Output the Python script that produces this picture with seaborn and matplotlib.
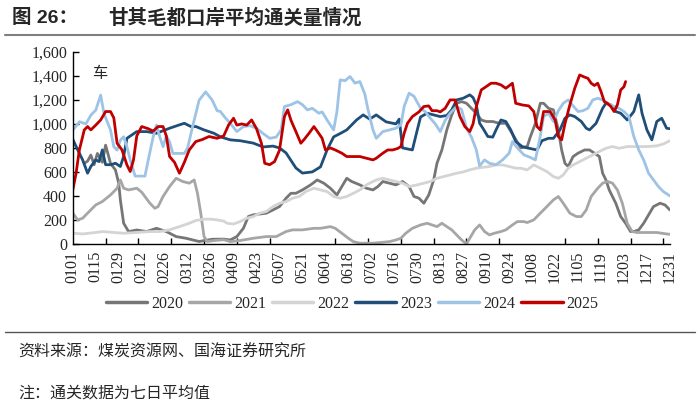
import matplotlib
matplotlib.use("Agg")
import matplotlib.pyplot as plt
from matplotlib.lines import Line2D
import pandas as pd
import seaborn as sns

# day-of-year (0 = 0101) and 7-day average clearance (trucks), traced per year
days_2020 = [7, 9, 11, 13, 15, 18, 20, 23, 26, 28, 29, 31, 34, 39, 45, 51, 57, 63, 69, 77, 85, 92, 96, 100, 104, 107, 110, 118, 122, 126, 130, 133, 136, 140, 145, 149, 153, 157, 161, 164, 167, 170, 175, 179, 183, 186, 189, 193, 197, 201, 205, 208, 211, 214, 217, 220, 222, 225, 228, 231, 234, 237, 240, 243, 246, 249, 252, 256, 260, 264, 269, 273, 277, 279, 282, 285, 287, 290, 293, 296, 298, 300, 302, 305, 308, 312, 315, 318, 321, 323, 325, 327, 331, 334, 337, 340, 342, 345, 348, 351, 354, 358, 361, 364]
vals_2020 = [671, 690, 740, 660, 754, 680, 823, 671, 616, 505, 366, 172, 103, 116, 103, 130, 103, 61, 47, 20, 39, 40, 33, 61, 130, 228, 242, 256, 283, 311, 381, 422, 422, 450, 492, 533, 506, 464, 408, 478, 547, 520, 492, 464, 450, 478, 520, 506, 492, 520, 478, 395, 381, 339, 408, 533, 672, 783, 950, 1075, 1172, 1186, 1172, 1130, 1089, 1033, 1020, 1020, 1005, 1005, 895, 800, 811, 895, 1005, 1172, 1172, 1130, 1117, 950, 783, 672, 645, 728, 756, 783, 783, 756, 728, 589, 533, 450, 339, 228, 172, 103, 103, 117, 172, 242, 311, 339, 325, 283]

days_2021 = [0, 3, 6, 10, 14, 18, 23, 27, 29, 31, 34, 39, 42, 47, 50, 52, 55, 59, 63, 67, 71, 74, 76, 78, 80, 82, 86, 92, 96, 102, 110, 118, 124, 130, 134, 140, 147, 151, 157, 160, 164, 168, 171, 175, 183, 187, 193, 197, 200, 203, 207, 212, 216, 219, 222, 225, 228, 231, 234, 237, 240, 242, 245, 248, 251, 254, 257, 261, 264, 268, 271, 275, 277, 281, 285, 289, 293, 296, 299, 303, 307, 310, 313, 316, 320, 323, 326, 329, 332, 335, 338, 341, 344, 350, 356, 362, 364]
vals_2021 = [256, 200, 214, 270, 325, 353, 408, 464, 533, 464, 450, 464, 431, 339, 297, 311, 395, 478, 547, 520, 506, 533, 422, 256, 61, 20, 28, 35, 19, 28, 47, 61, 61, 103, 117, 117, 130, 130, 144, 130, 89, 47, 19, 6, 6, 11, 19, 33, 47, 89, 130, 158, 172, 158, 144, 172, 144, 117, 75, 33, 0, 47, 117, 158, 103, 75, 89, 103, 117, 158, 186, 186, 178, 200, 256, 311, 367, 395, 339, 256, 228, 228, 283, 395, 464, 506, 520, 506, 450, 339, 172, 103, 95, 95, 95, 83, 80]

days_2022 = [0, 6, 14, 18, 25, 31, 39, 47, 53, 59, 65, 71, 75, 80, 84, 88, 92, 94, 98, 102, 106, 110, 114, 118, 122, 126, 130, 134, 138, 142, 147, 151, 155, 159, 163, 167, 171, 175, 179, 183, 185, 189, 193, 197, 201, 205, 210, 214, 218, 222, 226, 230, 234, 238, 242, 246, 250, 254, 258, 262, 266, 270, 273, 277, 281, 285, 289, 293, 296, 299, 302, 305, 309, 313, 317, 321, 325, 329, 333, 338, 342, 350, 356, 360, 364]
vals_2022 = [89, 83, 95, 103, 95, 89, 95, 103, 103, 117, 144, 172, 195, 206, 206, 200, 190, 172, 166, 186, 214, 228, 256, 270, 311, 339, 353, 381, 395, 436, 464, 450, 436, 395, 381, 395, 422, 450, 492, 520, 533, 547, 533, 520, 506, 478, 492, 506, 520, 547, 561, 575, 589, 600, 617, 631, 638, 645, 658, 658, 645, 631, 631, 617, 658, 631, 603, 561, 547, 575, 631, 658, 686, 714, 742, 770, 797, 811, 797, 811, 811, 811, 817, 833, 860]

days_2023 = [0, 3, 6, 9, 11, 14, 16, 18, 20, 23, 26, 29, 31, 33, 36, 39, 45, 51, 59, 65, 68, 72, 75, 80, 86, 90, 96, 102, 110, 116, 122, 126, 130, 136, 140, 146, 151, 155, 159, 163, 167, 173, 177, 181, 185, 191, 197, 199, 201, 207, 210, 212, 216, 224, 228, 231, 234, 238, 242, 244, 246, 248, 250, 253, 256, 258, 261, 264, 267, 270, 274, 277, 283, 286, 290, 293, 297, 300, 303, 306, 310, 313, 315, 319, 323, 325, 328, 331, 334, 338, 342, 345, 347, 350, 353, 356, 359, 362, 364]
vals_2023 = [872, 783, 700, 589, 645, 700, 686, 783, 660, 660, 672, 645, 730, 880, 908, 936, 936, 922, 964, 992, 1005, 978, 978, 950, 922, 892, 867, 860, 840, 808, 815, 800, 758, 633, 590, 600, 642, 783, 892, 920, 950, 1033, 1075, 1040, 1075, 1017, 1000, 1040, 800, 783, 950, 1058, 1089, 1061, 1070, 1117, 1200, 1214, 1242, 1220, 1158, 1005, 964, 895, 890, 950, 1033, 1020, 950, 853, 811, 800, 783, 860, 880, 880, 950, 1047, 1075, 1061, 1020, 964, 950, 1005, 1130, 1172, 1158, 1103, 1089, 1033, 1103, 1242, 1089, 950, 867, 1020, 1047, 964, 960]

days_2024 = [0, 4, 8, 11, 14, 17, 19, 21, 23, 25, 27, 29, 31, 33, 35, 38, 44, 46, 49, 51, 53, 55, 57, 59, 61, 68, 70, 73, 77, 81, 85, 88, 90, 93, 96, 100, 104, 108, 112, 116, 120, 124, 127, 129, 133, 137, 140, 143, 146, 150, 152, 155, 159, 161, 163, 166, 169, 172, 175, 178, 180, 183, 185, 189, 193, 197, 200, 202, 205, 208, 212, 215, 218, 221, 224, 227, 230, 234, 237, 240, 243, 246, 248, 251, 254, 258, 262, 266, 268, 271, 275, 279, 282, 285, 287, 290, 293, 296, 299, 302, 305, 308, 311, 314, 317, 320, 323, 326, 330, 333, 336, 339, 342, 345, 348, 351, 354, 357, 360, 364]
vals_2024 = [948, 1018, 1000, 1073, 1115, 1240, 1087, 1018, 948, 810, 782, 865, 893, 810, 700, 565, 565, 700, 893, 990, 893, 810, 900, 850, 754, 754, 800, 976, 1198, 1267, 1198, 1110, 1103, 1050, 1005, 936, 978, 985, 964, 920, 880, 890, 950, 1145, 1160, 1186, 1160, 1117, 1130, 1089, 1100, 1033, 950, 1100, 1367, 1360, 1395, 1340, 1353, 1250, 1117, 950, 880, 936, 950, 964, 992, 1145, 1256, 1230, 1130, 1100, 1047, 1000, 936, 1030, 1089, 1145, 1120, 964, 890, 783, 650, 700, 672, 660, 700, 756, 853, 800, 742, 720, 700, 900, 1061, 1089, 1020, 1110, 1172, 1200, 1150, 1103, 1110, 1130, 1200, 1214, 1200, 1172, 1145, 1130, 1103, 1061, 895, 783, 700, 589, 533, 478, 436, 400]

days_2025 = [0, 2, 4, 7, 9, 11, 14, 17, 20, 23, 25, 27, 30, 33, 35, 37, 39, 42, 46, 49, 52, 55, 57, 59, 62, 65, 68, 71, 75, 79, 83, 88, 92, 95, 98, 100, 103, 106, 109, 112, 115, 117, 120, 123, 126, 129, 131, 133, 136, 139, 141, 144, 147, 150, 152, 154, 157, 160, 164, 167, 171, 175, 179, 183, 185, 189, 192, 195, 198, 200, 202, 204, 207, 211, 214, 217, 219, 222, 224, 227, 230, 233, 236, 239, 242, 244, 246, 249, 252, 255, 258, 261, 264, 268, 270, 274, 278, 281, 283, 285, 287, 291, 294, 296, 298, 300, 303, 306, 309, 312, 314, 316, 318, 320, 322, 324, 326, 328, 330, 332, 334, 336, 337]
vals_2025 = [450, 589, 783, 950, 978, 950, 990, 1033, 1103, 1103, 1050, 839, 783, 658, 603, 700, 900, 978, 960, 940, 978, 978, 900, 728, 680, 589, 680, 783, 853, 870, 895, 880, 900, 992, 1047, 990, 1000, 990, 1033, 960, 839, 672, 660, 686, 780, 1061, 1117, 1030, 936, 839, 870, 922, 978, 920, 880, 783, 800, 783, 756, 728, 728, 728, 714, 700, 714, 756, 783, 783, 795, 811, 922, 1005, 1061, 1100, 1145, 1150, 1110, 1110, 1100, 1130, 1200, 1200, 1061, 978, 936, 1000, 1145, 1283, 1311, 1339, 1339, 1325, 1297, 1339, 1172, 1158, 1150, 1103, 978, 950, 1103, 1103, 1033, 895, 867, 1000, 1158, 1297, 1408, 1390, 1380, 1339, 1320, 1339, 1270, 1186, 1170, 1145, 1103, 1160, 1283, 1310, 1353]

years = ["2020", "2021", "2022", "2023", "2024", "2025"]
colors = ["#767676", "#a6a6a6", "#d4d4d4", "#1f4e79", "#9dc3e6", "#c00000"]
tick_labels = ["0101", "0115", "0129", "0212", "0226", "0312", "0326", "0409", "0423",
               "0507", "0521", "0604", "0618", "0702", "0716", "0730", "0813", "0827",
               "0910", "0924", "1008", "1022", "1105", "1119", "1203", "1217", "1231"]

series = {
    "2020": (days_2020, vals_2020),
    "2021": (days_2021, vals_2021),
    "2022": (days_2022, vals_2022),
    "2023": (days_2023, vals_2023),
    "2024": (days_2024, vals_2024),
    "2025": (days_2025, vals_2025),
}
frames = []
for y in years:
    d, v = series[y]
    frames.append(pd.DataFrame({"day": d, "value": v, "year": y}))
df = pd.concat(frames, ignore_index=True)

sns.set_theme(style="ticks")
plt.rcParams["font.family"] = ["Liberation Serif", "Noto Sans CJK SC"]
SERIF = "Liberation Serif"

fig = plt.figure(figsize=(7, 4.12), dpi=100)
ax = fig.add_axes([0.104, 0.408, 0.853, 0.466])

sns.lineplot(data=df, x="day", y="value", hue="year", hue_order=years,
             palette=dict(zip(years, colors)), linewidth=2.0, errorbar=None,
             legend=False, ax=ax)

ax.set_xlim(0, 364)
ax.set_ylim(0, 1600)
ax.set_yticks(range(0, 1601, 200))
ax.set_yticklabels([f"{v:,}" for v in range(0, 1601, 200)], fontsize=11.5,
                   fontfamily=SERIF)
ax.set_xticks(range(0, 365, 14))
ax.set_xticklabels(tick_labels, rotation=90, fontsize=11.5, fontfamily=SERIF)
ax.set_xticks(range(0, 365, 20), minor=True)
ax.tick_params(axis="x", which="major", length=0, pad=5)
ax.tick_params(axis="x", which="minor", direction="in", length=4, width=1, color="black")
ax.tick_params(axis="y", direction="in", length=4, width=1, color="black", pad=4)
ax.set_xlabel("")
ax.set_ylabel("")
for s in ["top", "right"]:
    ax.spines[s].set_visible(False)
for s in ["left", "bottom"]:
    ax.spines[s].set_color("black")
    ax.spines[s].set_linewidth(1.0)
ax.text(0.032, 0.89, "车", transform=ax.transAxes, fontsize=11,
        family=["Noto Sans CJK SC"], va="center", ha="left")

handles = [Line2D([0], [0], color=c, lw=2.5) for c in colors]
fig.legend(handles, years, loc="center", bbox_to_anchor=(0.503, 0.262), ncol=6,
           frameon=False, prop={"family": SERIF, "size": 11.5}, handlelength=2.6,
           handletextpad=0.25, columnspacing=0.35)

# header / footer
fig.text(0.017, 0.956, "图 26：", fontsize=14, fontweight="bold",
         family=["Liberation Sans", "Noto Sans CJK SC"], va="center", ha="left")
fig.text(0.154, 0.956, "甘其毛都口岸平均通关量情况", fontsize=14, fontweight="bold",
         family=["Noto Sans CJK SC"], va="center", ha="left")
fig.add_artist(Line2D([0.007, 0.993], [1 - 35 / 412] * 2, color="#7f7f7f", lw=1.5))
fig.add_artist(Line2D([0.007, 0.993], [1 - 332 / 412] * 2, color="#555555", lw=1.0))
fig.text(0.026, 1 - 352 / 412, "资料来源：煤炭资源网、国海证券研究所", fontsize=11.5,
         family=["Noto Sans CJK SC"], va="center", ha="left")
fig.text(0.026, 1 - 393 / 412, "注：通关数据为七日平均值", fontsize=11.5,
         family=["Noto Sans CJK SC"], va="center", ha="left")

fig.savefig("out.png", dpi=100)
